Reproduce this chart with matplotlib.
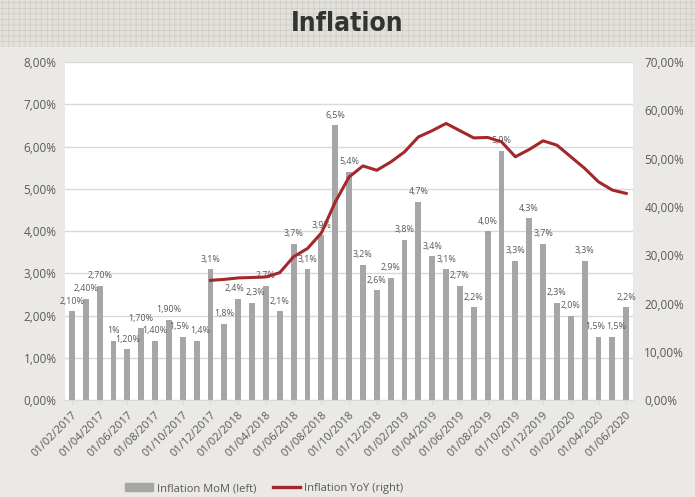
import numpy as np
import matplotlib
matplotlib.use('Agg')
import matplotlib.pyplot as plt
from matplotlib.patches import Rectangle
from matplotlib.lines import Line2D
from matplotlib.ticker import FuncFormatter, MultipleLocator

# monthly series, Feb 2017 .. Jun 2020
months = ['01/%02d/%d' % (m, y) for y in range(2017, 2021) for m in range(1, 13)][1:42]

mom = [2.10, 2.40, 2.70, 1.40, 1.20, 1.70, 1.40, 1.90, 1.5, 1.4,
       3.1, 1.8, 2.4, 2.3, 2.7, 2.1, 3.7, 3.1, 3.9, 6.5,
       5.4, 3.2, 2.6, 2.9, 3.8, 4.7, 3.4, 3.1, 2.7, 2.2,
       4.0, 5.9, 3.3, 4.3, 3.7, 2.3, 2.0, 3.3, 1.5, 1.5, 2.2]

mom_labels = ['2,10%', '2,40%', '2,70%', '1%', '1,20%', '1,70%', '1,40%', '1,90%', '1,5%', '1,4%',
              '3,1%', '1,8%', '2,4%', '2,3%', '2,7%', '2,1%', '3,7%', '3,1%', '3,9%', '6,5%',
              '5,4%', '3,2%', '2,6%', '2,9%', '3,8%', '4,7%', '3,4%', '3,1%', '2,7%', '2,2%',
              '4,0%', '5,9%', '3,3%', '4,3%', '3,7%', '2,3%', '2,0%', '3,3%', '1,5%', '1,5%', '2,2%']

# year-on-year only available from Dec 2017
yoy = [np.nan] * 10 + [
    24.8, 25.0, 25.3, 25.4, 25.5, 26.4, 29.7, 31.4, 34.6, 41.0,
    46.2, 48.5, 47.6, 49.3, 51.4, 54.5, 55.8, 57.3, 55.8, 54.3,
    54.4, 53.5, 50.4, 51.9, 53.7, 52.8, 50.4, 48.0, 45.2, 43.5, 42.8]

bg = '#ebe9e5'
txt = '#595959'
bar_col = '#a6a6a6'
line_col = '#a3282b'

plt.rcParams['font.family'] = ['Open Sans', 'DejaVu Sans']
plt.rcParams['hatch.linewidth'] = 0.4

fig = plt.figure(figsize=(6.95, 4.97), dpi=100, facecolor=bg)

# hatched title band
band = Rectangle((0, 0.905), 1, 0.095, transform=fig.transFigure,
                 facecolor='#e2e0db', edgecolor='#c9c7c2', hatch='+++', lw=0)
fig.patches.append(band)
fig.text(0.5, 0.952, 'Inflation', ha='center', va='center', fontsize=19,
         fontweight='bold', fontstretch='condensed', family='DejaVu Sans', color='#333333')

ax = fig.add_axes([0.0935, 0.195, 0.8175, 0.68])
ax.set_facecolor('white')
x = np.arange(len(mom))
ax.bar(x, mom, width=0.42, color=bar_col, zorder=2)

# neighbouring labels at almost equal height get pushed apart a little
nudge = {8: -2.5, 9: 2.5, 12: -2.5, 13: 2.5, 38: -2.5, 39: 2.5}
for xi, v, lab in zip(x, mom, mom_labels):
    ax.annotate(lab, (xi, v), xytext=(nudge.get(xi, 0), 4), textcoords='offset points',
                ha='center', va='bottom', fontsize=6.4, color=txt, zorder=5)

ax.set_xlim(-0.5, len(mom) - 0.5)
ax.set_ylim(0, 8)
ax.yaxis.set_major_locator(MultipleLocator(1))
ax.yaxis.set_major_formatter(FuncFormatter(lambda v, p: ('%.2f%%' % v).replace('.', ',')))
ax.grid(axis='y', color='#d9d9d9', lw=1, zorder=0)
ax.set_axisbelow(True)
ax.set_xticks(x[::2])
ax.set_xticklabels(months[::2], rotation=45, ha='right', rotation_mode='anchor')
ax.tick_params(axis='x', colors=txt, labelsize=8, length=3, color='#d9d9d9')
ax.tick_params(axis='y', colors=txt, labelsize=8.5, length=0, pad=6)
for s in ['top', 'left', 'right']:
    ax.spines[s].set_visible(False)
ax.spines['bottom'].set_color('#d9d9d9')

ax2 = ax.twinx()
ax2.plot(x, yoy, color=line_col, lw=2.2, zorder=4)
ax2.set_ylim(0, 70)
ax2.yaxis.set_major_locator(MultipleLocator(10))
ax2.yaxis.set_major_formatter(FuncFormatter(lambda v, p: ('%.2f%%' % v).replace('.', ',')))
ax2.tick_params(axis='y', colors=txt, labelsize=8.5, length=0, pad=8)
for s in ax2.spines.values():
    s.set_visible(False)

handles = [Rectangle((0, 0), 1, 1, color=bar_col),
           Line2D([0], [0], color=line_col, lw=2.4)]
fig.legend(handles, ['Inflation MoM (left)', 'Inflation YoY (right)'],
           loc='center', bbox_to_anchor=(0.38, 0.017), ncol=2, frameon=False,
           fontsize=8, labelcolor=txt, handlelength=2.5, columnspacing=1.5,
           handletextpad=0.3)

fig.savefig('out.png', dpi=100, facecolor=bg)
